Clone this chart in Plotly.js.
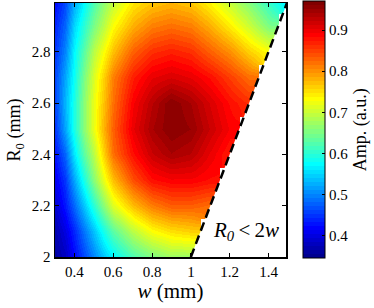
<!DOCTYPE html>
<html>
<head>
<meta charset="utf-8">
<script src="https://cdn.plot.ly/plotly-3.0.1.min.js"></script>
<style>html,body{margin:0;padding:0;background:#fff;}#chart{width:374px;height:308px;}</style>
</head>
<body>
<div id="chart"></div>
<script>
// beam width w (mm)
var wValues = [0.3, 0.35, 0.4, 0.45, 0.5, 0.55, 0.6, 0.7, 0.8, 0.9, 1.0, 1.1, 1.2, 1.3, 1.4, 1.5];
// radius R0 (mm)
var r0Values = [2.0, 2.1, 2.2, 2.3, 2.4, 2.5, 2.6, 2.7, 2.8, 2.9, 3.0];
// amplitude (a.u.), one row per R0; null where R0 < 2w
var ampR2_0 = [0.36, 0.38, 0.42, 0.46, 0.50, 0.54, 0.57, 0.62, 0.65, 0.67, 0.67, null, null, null, null, null];
var ampR2_1 = [0.37, 0.40, 0.44, 0.49, 0.54, 0.59, 0.63, 0.69, 0.73, 0.75, 0.76, null, null, null, null, null];
var ampR2_2 = [0.39, 0.43, 0.48, 0.54, 0.60, 0.66, 0.71, 0.77, 0.81, 0.83, 0.83, 0.82, null, null, null, null];
var ampR2_3 = [0.41, 0.45, 0.52, 0.59, 0.66, 0.72, 0.77, 0.84, 0.88, 0.89, 0.89, 0.88, null, null, null, null];
var ampR2_4 = [0.43, 0.48, 0.56, 0.63, 0.69, 0.76, 0.82, 0.88, 0.92, 0.94, 0.93, 0.90, 0.87, null, null, null];
var ampR2_5 = [0.45, 0.52, 0.59, 0.66, 0.72, 0.78, 0.83, 0.90, 0.94, 0.96, 0.95, 0.92, 0.89, null, null, null];
var ampR2_6 = [0.46, 0.53, 0.59, 0.66, 0.72, 0.77, 0.82, 0.89, 0.93, 0.96, 0.94, 0.91, 0.88, 0.86, null, null];
var ampR2_7 = [0.46, 0.52, 0.58, 0.65, 0.71, 0.76, 0.81, 0.87, 0.90, 0.91, 0.90, 0.88, 0.85, 0.82, null, null];
var ampR2_8 = [0.45, 0.50, 0.57, 0.63, 0.69, 0.73, 0.77, 0.83, 0.86, 0.87, 0.86, 0.83, 0.80, 0.76, 0.73, null];
var ampR2_9 = [0.44, 0.48, 0.55, 0.60, 0.65, 0.69, 0.73, 0.78, 0.81, 0.82, 0.81, 0.78, 0.74, 0.70, 0.65, null];
var ampR3_0 = [0.42, 0.46, 0.52, 0.57, 0.62, 0.66, 0.69, 0.74, 0.76, 0.77, 0.76, 0.73, 0.69, 0.65, 0.60, 0.56];
var ampRows = [ampR2_0, ampR2_1, ampR2_2, ampR2_3, ampR2_4, ampR2_5, ampR2_6, ampR2_7, ampR2_8, ampR2_9, ampR3_0];

var xTicks = [0.4, 0.6, 0.8, 1.0, 1.2, 1.4];
var xTickText = ['0.4', '0.6', '0.8', '1', '1.2', '1.4'];
var yTicks = [2.0, 2.2, 2.4, 2.6, 2.8];
var yTickText = ['2', '2.2', '2.4', '2.6', '2.8'];
var cTicks = [0.4, 0.5, 0.6, 0.7, 0.8, 0.9];
var cTickText = ['0.4', '0.5', '0.6', '0.7', '0.8', '0.9'];
var ampMin = 0.345, ampMax = 0.97;
var xRange = [0.3, 1.49], yRange = [2.0, 2.99];

// MATLAB jet(64) as a stepped colorscale
function jet(m) {
  var n = Math.ceil(m / 4);
  var u = [];
  for (var i = 1; i <= n; i++) u.push(i / n);
  for (i = 1; i < n; i++) u.push(1);
  for (i = n; i >= 1; i--) u.push(i / n);
  var g0 = Math.ceil(n / 2) - ((m % 4) === 1 ? 1 : 0);
  var J = [];
  for (i = 0; i < m; i++) J.push([0, 0, 0]);
  for (var k = 0; k < u.length; k++) {
    var gi = g0 + k + 1, ri = gi + n, bi = gi - n;
    if (gi >= 1 && gi <= m) J[gi - 1][1] = u[k];
    if (ri >= 1 && ri <= m) J[ri - 1][0] = u[k];
    if (bi >= 1 && bi <= m) J[bi - 1][2] = u[k];
  }
  return J;
}
var jc = jet(64);
var jetScale = [];
for (var i = 0; i < 64; i++) {
  var c = 'rgb(' + Math.round(jc[i][0] * 255) + ',' + Math.round(jc[i][1] * 255) + ',' + Math.round(jc[i][2] * 255) + ')';
  jetScale.push([i / 64, c]);
  jetScale.push([(i + 1) / 64, c]);
}

// boundary R0 = 2w
var boundR0 = [yRange[0], yRange[1] + 0.05];
var boundW = boundR0.map(function (r) { return r / 2; });

var serif = 'Liberation Serif, Times New Roman, serif';

var heat = {
  type: 'heatmap', x: wValues, y: r0Values, z: ampRows,
  zsmooth: 'best', colorscale: jetScale, zmin: ampMin, zmax: ampMax,
  hoverinfo: 'skip',
  colorbar: {
    x: 1.073, xanchor: 'left', xpad: 0, ypad: 0,
    y: 1.003, yanchor: 'top', len: 1.006, lenmode: 'fraction',
    thickness: 22, thicknessmode: 'pixels',
    outlinecolor: '#000', outlinewidth: 1,
    ticks: 'inside', ticklen: 3, tickcolor: '#000',
    tickvals: cTicks, ticktext: cTickText,
    tickfont: {family: serif, size: 15, color: '#000'},
    title: {text: 'Amp. (a.u.)', side: 'right', font: {family: serif, size: 18, color: '#000'}}
  }
};
var mask = {
  type: 'scatter', mode: 'lines',
  x: [boundW[0], boundW[1], xRange[1] + 0.2, xRange[1] + 0.2, boundW[0]],
  y: [boundR0[0], boundR0[1], boundR0[1], boundR0[0], boundR0[0]],
  fill: 'toself', fillcolor: '#fff', line: {width: 0, color: '#fff'},
  hoverinfo: 'skip', showlegend: false
};
var bound = {
  type: 'scatter', mode: 'lines', x: boundW, y: boundR0,
  line: {color: '#000', width: 2.5, dash: '9px,5px'},
  hoverinfo: 'skip', showlegend: false
};

var layout = {
  width: 374, height: 308,
  margin: {l: 55, r: 88, t: 2, b: 51},
  paper_bgcolor: '#fff', plot_bgcolor: '#fff',
  showlegend: false,
  xaxis: {
    range: xRange, tickvals: xTicks, ticktext: xTickText,
    ticks: 'inside', ticklen: 4, tickcolor: '#000', mirror: 'ticks',
    showline: true, linecolor: '#000', linewidth: 1.5, showgrid: false, zeroline: false,
    tickfont: {family: serif, size: 15, color: '#000'},
    title: {text: '<i>w</i> (mm)', font: {family: serif, size: 21, color: '#000'}, standoff: 3}
  },
  yaxis: {
    range: yRange, tickvals: yTicks, ticktext: yTickText,
    ticks: 'inside', ticklen: 4, tickcolor: '#000', mirror: 'ticks',
    showline: true, linecolor: '#000', linewidth: 1.5, showgrid: false, zeroline: false,
    tickfont: {family: serif, size: 15, color: '#000'},
    title: {text: 'R<sub>0</sub> (mm)', font: {family: serif, size: 18, color: '#000'}, standoff: 6}
  },
  annotations: [{
    x: 1.285, y: 2.1, xref: 'x', yref: 'y', showarrow: false,
    text: '<i>R<sub>0</sub></i>&#8201;&lt;&#8201;2<i>w</i>',
    font: {family: serif, size: 21, color: '#000'}
  }]
};

Plotly.newPlot('chart', [heat, mask, bound], layout, {displayModeBar: false, staticPlot: true});
</script>
</body>
</html>
